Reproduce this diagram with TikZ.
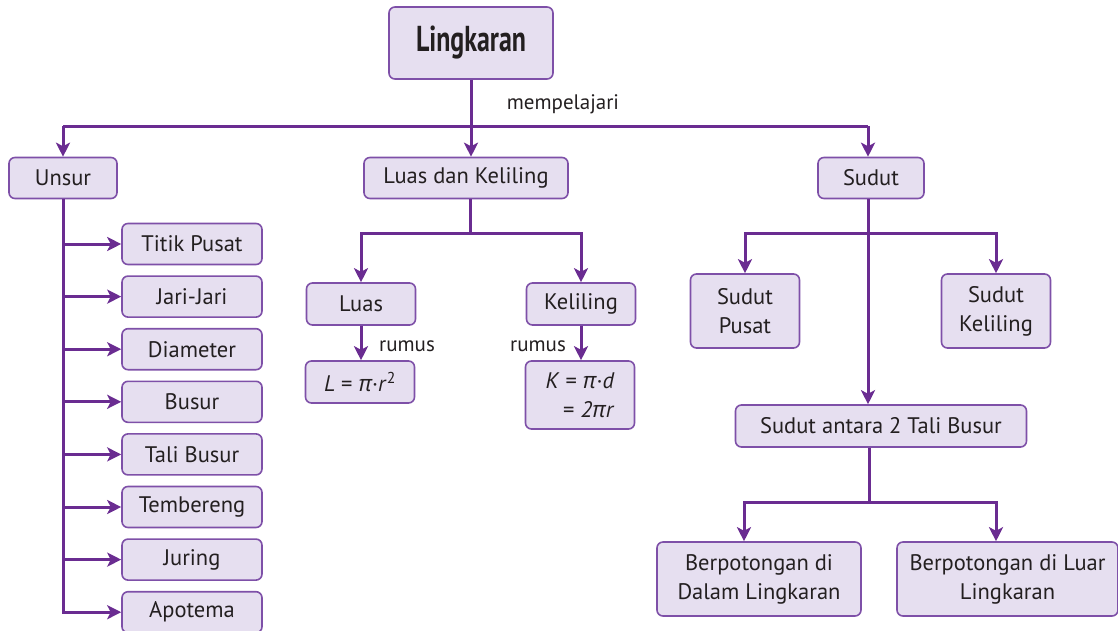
\documentclass[tikz,border=0pt]{standalone}
\usepackage{graphicx}
\usepackage{fontspec}
\setmainfont{PT Sans}
\newfontfamily\gk{Open Sans}
\usetikzlibrary{arrows.meta}
\definecolor{boxfill}{HTML}{E6DFF0}
\definecolor{boxline}{HTML}{7E50A8}
\definecolor{connc}{HTML}{6A2C91}
\definecolor{txt}{HTML}{231F20}
\begin{document}
\begin{tikzpicture}[x=1pt,y=-1pt,
 box/.style={draw=boxline, fill=boxfill, line width=1.6pt, rounded corners=6pt, text=txt,
   font=\fontsize{22.5}{29}\selectfont, inner sep=0pt, align=center},
 conn/.style={draw=connc, line width=3pt},
 arr/.style={conn, -{Stealth[length=14pt,width=14pt,inset=3.5pt]}},
 lbl/.style={text=txt, font=\fontsize{21}{25}\selectfont, inner sep=0pt}]
\useasboundingbox (0,0) rectangle (1118,630);

% boxes
\node[box, minimum width=164pt, minimum height=72pt] (L) at (471,43)
  {\bfseries\fontsize{36}{40}\selectfont\scalebox{0.72}[1]{Lingkaran}};
\node[box, minimum width=108pt, minimum height=41pt] (U) at (63,178) {Unsur};
\node[box, minimum width=204pt, minimum height=41pt] (LK) at (466,178) {Luas dan Keliling};
\node[box, minimum width=106pt, minimum height=41pt] (S) at (871,178) {Sudut};

\foreach \n/\t [count=\i from 0] in {TP/Titik Pusat, JJ/Jari-Jari, DM/Diameter, BS/Busur,
   TB/Tali Busur, TM/Tembereng, JR/Juring, AP/Apotema}
  \node[box, minimum width=140pt, minimum height=41pt] (\n) at (192,244+52.6*\i) {\t};

\node[box, minimum width=109pt, minimum height=42pt] (Lu) at (361,304) {Luas};
\node[box, minimum width=109pt, minimum height=42pt] (Ke) at (581,304) {Keliling};
\node[box, minimum width=109pt, minimum height=42pt] (Lf) at (360,382)
  {\textit{L} = {\gk\itshape π}·\textit{r}\textsuperscript{2}};
\node[box, minimum width=109pt, minimum height=68pt, align=right] (Kf) at (580,395)
  {\textit{K} = {\gk\itshape π}·\textit{d}\\= \textit{2}{\gk\itshape π}\textit{r}};

\node[box, minimum width=109pt, minimum height=74pt] (SP) at (745,311) {Sudut\\Pusat};
\node[box, minimum width=109pt, minimum height=74pt] (SK) at (996,311) {Sudut\\Keliling};
\node[box, minimum width=291pt, minimum height=42pt] (SA) at (881,426) {Sudut antara 2 Tali Busur};
\node[box, minimum width=204pt, minimum height=74pt] (BD) at (759,579) {Berpotongan di\\Dalam Lingkaran};
\node[box, minimum width=221pt, minimum height=74pt] (BL) at (1007.5,579) {Berpotongan di Luar\\Lingkaran};

% labels
\node[lbl] (mp) at (563,104) {mempelajari};
\node[lbl] (r1) at (407,346) {rumus};
\node[lbl] (r2) at (538,346) {rumus};

% junctions
\coordinate (hb) at (471,126);
\coordinate (hl) at (63,126);
\coordinate (hr) at (868,126);
\coordinate (lkj) at (470,233);
\coordinate (sj) at (868,233);
\coordinate (saj) at (869,502);

% connectors
\draw[conn] (L.south) -- (hb);
\draw[conn] (hl) -- (hr);
\draw[arr] (hl) -- (hl |- U.north);
\draw[arr] (hb) -- (hb |- LK.north);
\draw[arr] (hr) -- (hr |- S.north);

\draw[arr] (U.south) |- (AP.west);
\foreach \n in {TP,JJ,DM,BS,TB,TM,JR}
  \draw[arr] (U.south |- \n.west) -- (\n.west);

\draw[conn] (lkj |- LK.south) -- (lkj);
\draw[arr] (lkj) -| (Lu.north);
\draw[arr] (lkj) -| (Ke.north);
\draw[arr] (Lu.south) -- (Lu.south |- Lf.north);
\draw[arr] (Ke.south) -- (Ke.south |- Kf.north);

\draw[conn] (sj |- S.south) -- (sj);
\draw[arr] (sj) -| (SP.north);
\draw[arr] (sj) -| (SK.north);
\draw[arr] (sj) -- (sj |- SA.north);
\draw[conn] (saj |- SA.south) -- (saj);
\draw[arr] (saj) -| ([xshift=-15pt]BD.north);
\draw[arr] (saj) -| ([xshift=-11.5pt]BL.north);
\end{tikzpicture}
\end{document}
